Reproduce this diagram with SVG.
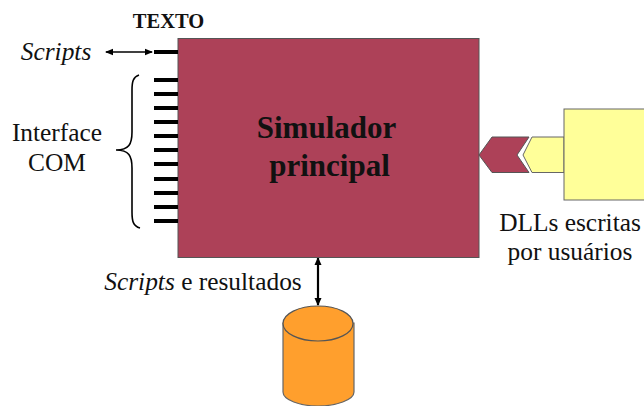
<svg xmlns="http://www.w3.org/2000/svg" width="644" height="406" viewBox="0 0 644 406">
<style>
text{font-family:"Liberation Serif","Times New Roman",serif;fill:#111}
.l{font-size:25.400px}
.m{text-anchor:middle}
.pin{stroke:#000;stroke-width:4;fill:none}
.edge{stroke:#000;fill:none}
</style>
<defs>
<marker id="a" viewBox="0 0 8 8" refX="7" refY="4" markerWidth="8" markerHeight="8" markerUnits="userSpaceOnUse" orient="auto-start-reverse"><path d="M0 0.8L8 4L0 7.2Z" fill="#000"/></marker>
<marker id="b" viewBox="0 0 8 8" refX="7" refY="4" markerWidth="8" markerHeight="8" markerUnits="userSpaceOnUse" orient="auto-start-reverse"><path d="M0 0.5L8 4L0 7.500Z" fill="#000"/></marker>
</defs>
<rect width="644" height="406" fill="#fff"/>
<g id="connectors">
<path class="edge" stroke-width="1.600" d="M106 52H152" marker-start="url(#a)" marker-end="url(#a)"/>
<path class="edge" stroke-width="2.200" d="M318 258V305" marker-start="url(#b)" marker-end="url(#b)"/>
<path class="edge" stroke-width="1.600" d="M139 75C133 77 132 82 132 90V132C132 144 129 150 116 150C129 150 132 156 132 168V212C132 221 133 226 140 228"/>
</g>
<g id="simulador">
<rect x="178" y="38.500" width="301" height="219" fill="#ad4158" stroke="#555" stroke-width="1"/>
<path d="M479 155L492 137H529L517 155L529 172.500H492Z" fill="#ad4158" stroke="#555" stroke-width="1"/>
<text x="326.500" y="138" class="m" font-size="31" font-weight="bold">Simulador</text>
<text x="329.500" y="176" class="m" font-size="31" font-weight="bold">principal</text>
</g>
<g id="pinos">
<path class="pin" d="M154 52H178M154 80H178M154 94H178M154 108H178M154 122H178M154 136H178M154 150H178M154 164H178M154 179H178M154 193H178M154 207H178M154 221H178"/>
</g>
<g id="dll">
<path d="M564 137H532L523 155L532 172.500H564Z" fill="#ffff99" stroke="#666" stroke-width="1"/>
<rect x="564" y="109" width="81" height="91" fill="#ffff99" stroke="#666" stroke-width="1"/>
<text x="570" y="231" class="l m">DLLs escritas</text>
<text x="570" y="260" class="l m">por usuários</text>
</g>
<g id="banco">
<path d="M283 323V392C283 400 300 406 318 406C336 406 354 400 354 392V323Z" fill="#ff9f2d" stroke="#666" stroke-width="1.200"/>
<ellipse cx="318" cy="323.500" rx="35" ry="17.500" fill="#ff9f2d" stroke="#555" stroke-width="1.200"/>
</g>
<g id="rotulos">
<text x="168.500" y="28" class="m" font-size="20.500" font-weight="bold">TEXTO</text>
<text x="56" y="60" class="l m" font-style="italic">Scripts</text>
<text x="57" y="141" class="l m">Interface</text>
<text x="57" y="171" class="l m">COM</text>
<text x="203" y="290" class="l m"><tspan font-style="italic">Scripts</tspan> e resultados</text>
</g>
</svg>
